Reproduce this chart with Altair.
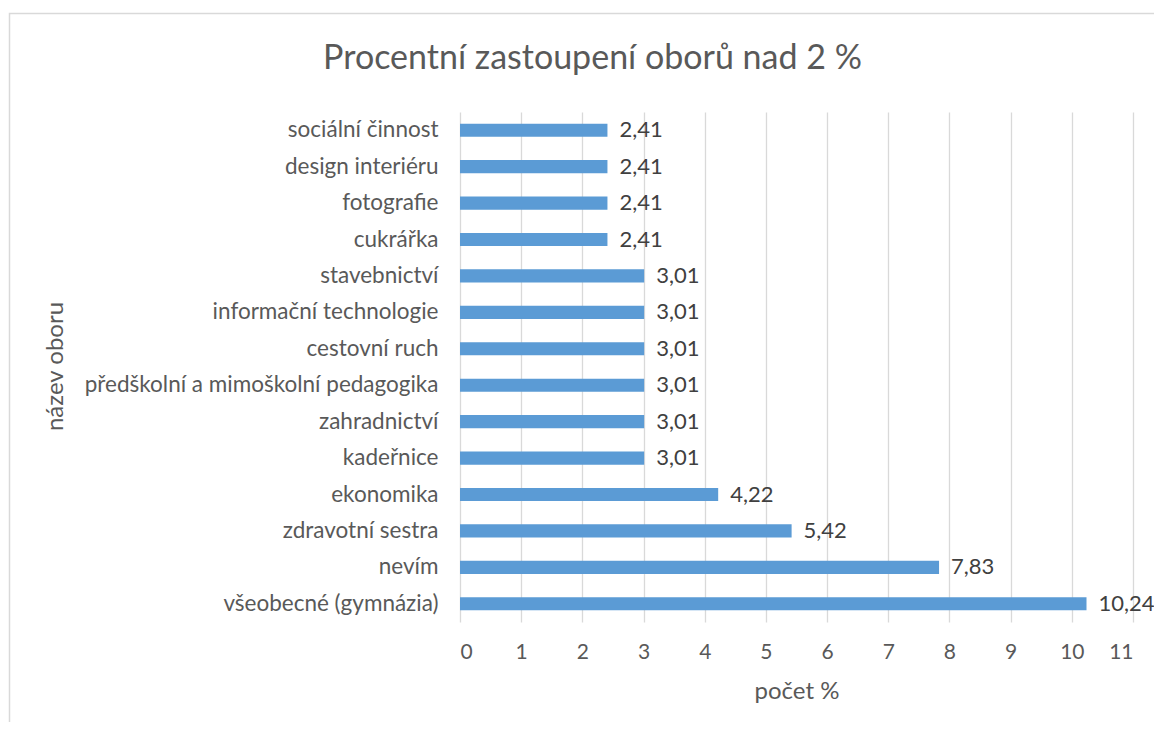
import altair as alt
import pandas as pd

categories = [
    "sociální činnost", "design interiéru", "fotografie", "cukrářka",
    "stavebnictví", "informační technologie", "cestovní ruch",
    "předškolní a mimoškolní pedagogika", "zahradnictví", "kadeřnice",
    "ekonomika", "zdravotní sestra", "nevím", "všeobecné (gymnázia)",
]
values = [2.41, 2.41, 2.41, 2.41, 3.01, 3.01, 3.01, 3.01, 3.01, 3.01,
          4.22, 5.42, 7.83, 10.24]
x_ticks = list(range(0, 12))

df = pd.DataFrame({"obor": categories, "pocet": values})

FONT = "Lato"
GREY = "#595959"
FS = 22

base = alt.Chart(df).encode(
    y=alt.Y("obor:N", sort=categories,
            scale=alt.Scale(paddingInner=0.64, paddingOuter=0.32),
            axis=alt.Axis(title="název oboru", labelFontSize=22.5, labelColor=GREY,
                          labelFont=FONT, titleFont=FONT, titleFontSize=24,
                          titleFontWeight="normal", titleColor=GREY,
                          ticks=False, domain=False, labelPadding=22,
                          titleX=-405, titleY=254, titleAngle=270,
                          titleAlign="center", titleBaseline="middle",
                          labelLimit=500)),
)

bars = base.mark_bar(color="#5B9BD5").encode(
    x=alt.X("pocet:Q", scale=alt.Scale(domain=[0, 11], nice=False),
            axis=alt.Axis(title="počet %", values=x_ticks, format="d",
                          labelFontSize=21, labelColor=GREY, labelFont=FONT,
                          titleFont=FONT, titleFontSize=24,
                          titleFontWeight="normal", titleColor=GREY,
                          ticks=False, domain=False, grid=True,
                          gridColor="#D9D9D9", gridWidth=1.3,
                          labelPadding=19, titlePadding=17)),
)

labels = base.transform_calculate(
    lbl="replace(format(datum.pocet, '.2f'), '.', ',')"
).mark_text(align="left", baseline="middle", dx=12, fontSize=FS,
            font=FONT, color="#404040").encode(
    x="pocet:Q",
    text="lbl:N",
)

frame = alt.Chart(pd.DataFrame({"f": [0]})).mark_rect(
    filled=False, stroke="#D9D9D9", strokeWidth=1.5
).encode(
    x=alt.value(-450.5), x2=alt.value(760),
    y=alt.value(-98.5), y2=alt.value(700),
)

chart = (frame + bars + labels).properties(
    width=673, height=510,
    title=alt.TitleParams("Procentní zastoupení oborů nad 2 %", fontSize=34,
                          font=FONT, fontWeight="normal", color=GREY,
                          anchor="middle", frame="group", dx=-204, offset=-63),
    autosize=alt.AutoSizeParams(type="none"),
    padding={"left": 452, "top": 104, "right": 21, "bottom": 100},
).configure_view(stroke=None)

chart.save("out.html", embed_options={"renderer": "svg", "actions": False})
